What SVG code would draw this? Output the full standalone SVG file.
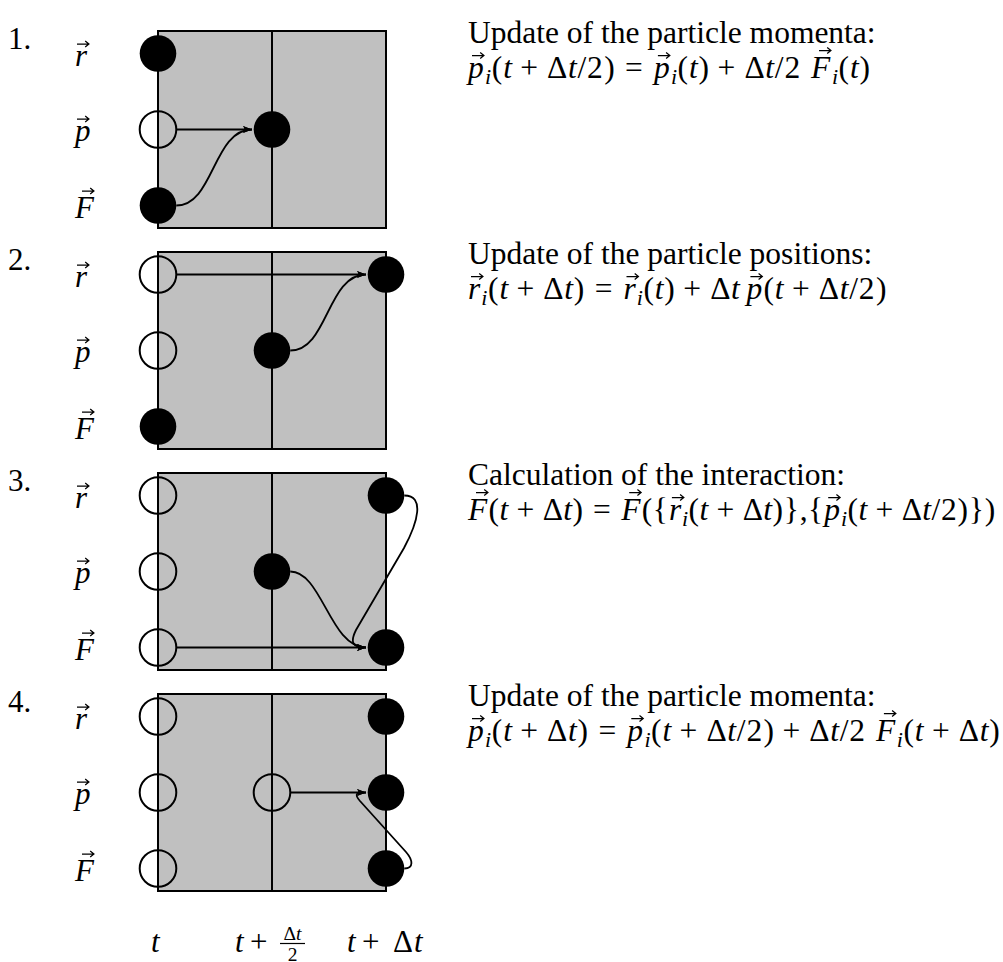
<svg xmlns="http://www.w3.org/2000/svg" xmlns:xlink="http://www.w3.org/1999/xlink" width="1003" height="962" viewBox="0 0 1003 962">
<style>
.box{fill:#c0c0c0;stroke:#000;stroke-width:2}
.div{stroke:#000;stroke-width:2}
.full{fill:#000}
.open{fill:none;stroke:#000;stroke-width:2}
.conn{fill:none;stroke:#000;stroke-width:1.8;marker-end:url(#ah)}
text{font-family:"Liberation Serif","Times New Roman",serif;font-size:31.5px;fill:#000}
.i{font-style:italic}
.s{font-size:22px}
.fr{font-size:19.5px}
.lb{font-size:31px}
</style>
<defs>
<marker id="ah" viewBox="-10 -5 11 10" refX="0" refY="0" markerWidth="11" markerHeight="10" markerUnits="userSpaceOnUse" orient="auto"><path d="M0,0 L-9,-3.6 Q-6,0 -9,3.6 Z" fill="#000"/></marker>
<path id="vec" d="M0,0 H11.5 M8.2,-2.9 L11.9,0 L8.2,2.9" fill="none" stroke="#000" stroke-width="1.25"/>
<g id="lbl">
<text x="75" y="65.5" class="i lb">r</text><use href="#vec" x="77" y="44"/>
<text x="75" y="140.5" class="i lb">p</text><use href="#vec" x="77" y="119"/>
<text x="75" y="217.5" class="i lb">F</text><use href="#vec" x="82" y="191"/>
</g>
</defs>

<!-- boxes -->
<g id="box1"><rect class="box" x="158" y="31" width="228" height="197"/><line class="div" x1="272" y1="31" x2="272" y2="228"/></g>
<g id="box2" transform="translate(0,221)"><rect class="box" x="158" y="31" width="228" height="197"/><line class="div" x1="272" y1="31" x2="272" y2="228"/></g>
<g id="box3" transform="translate(0,442)"><rect class="box" x="158" y="31" width="228" height="197"/><line class="div" x1="272" y1="31" x2="272" y2="228"/></g>
<g id="box4" transform="translate(0,663)"><rect class="box" x="158" y="31" width="228" height="197"/><line class="div" x1="272" y1="31" x2="272" y2="228"/></g>

<!-- connectors -->
<g id="connectors">
<path class="conn" d="M176.3,129.5 H252"/>
<path class="conn" d="M176.3,205.5 C214,205.5 213,129.5 252,129.5"/>
<path class="conn" d="M176.3,274.5 H366"/>
<path class="conn" d="M290.3,350.5 C328,350.5 327,274.5 366,274.5"/>
<path class="conn" d="M176.3,647.5 H366"/>
<path class="conn" d="M290.3,571.5 C322,571.5 330,647.5 366,647.5"/>
<path class="conn" d="M404.3,495.5 C425,495.5 418,522 404,548 L356,630 C350,642 352,647.5 366,647.5"/>
<path class="conn" d="M290.3,792.5 H366"/>
<path class="conn" d="M404.3,868.5 C414,868.5 413,860 406,852 L360,801 C354,794 356,792.5 366,792.5"/>
</g>

<!-- nodes panel 1 -->
<g id="n1-r-t"><circle class="full" cx="158" cy="53.5" r="18.3"/></g>
<g id="n1-p-t"><circle class="open" cx="158" cy="129.5" r="18.3"/></g>
<g id="n1-F-t"><circle class="full" cx="158" cy="205.5" r="18.3"/></g>
<g id="n1-p-half"><circle class="full" cx="272" cy="129.5" r="18.3"/></g>
<!-- nodes panel 2 -->
<g id="n2-r-t"><circle class="open" cx="158" cy="274.5" r="18.3"/></g>
<g id="n2-p-t"><circle class="open" cx="158" cy="350.5" r="18.3"/></g>
<g id="n2-F-t"><circle class="full" cx="158" cy="426.5" r="18.3"/></g>
<g id="n2-p-half"><circle class="full" cx="272" cy="350.5" r="18.3"/></g>
<g id="n2-r-dt"><circle class="full" cx="386" cy="274.5" r="18.3"/></g>
<!-- nodes panel 3 -->
<g id="n3-r-t"><circle class="open" cx="158" cy="495.5" r="18.3"/></g>
<g id="n3-p-t"><circle class="open" cx="158" cy="571.5" r="18.3"/></g>
<g id="n3-F-t"><circle class="open" cx="158" cy="647.5" r="18.3"/></g>
<g id="n3-p-half"><circle class="full" cx="272" cy="571.5" r="18.3"/></g>
<g id="n3-r-dt"><circle class="full" cx="386" cy="495.5" r="18.3"/></g>
<g id="n3-F-dt"><circle class="full" cx="386" cy="647.5" r="18.3"/></g>
<!-- nodes panel 4 -->
<g id="n4-r-t"><circle class="open" cx="158" cy="716.5" r="18.3"/></g>
<g id="n4-p-t"><circle class="open" cx="158" cy="792.5" r="18.3"/></g>
<g id="n4-F-t"><circle class="open" cx="158" cy="868.5" r="18.3"/></g>
<g id="n4-p-half"><circle class="open" cx="272" cy="792.5" r="18.3"/></g>
<g id="n4-r-dt"><circle class="full" cx="386" cy="716.5" r="18.3"/></g>
<g id="n4-p-dt"><circle class="full" cx="386" cy="792.5" r="18.3"/></g>
<g id="n4-F-dt"><circle class="full" cx="386" cy="868.5" r="18.3"/></g>

<!-- panel labels -->
<g id="labels1"><text x="8" y="49" class="lb">1.</text><use href="#lbl"/></g>
<g id="labels2" transform="translate(0,221)"><text x="8" y="49" class="lb">2.</text><use href="#lbl"/></g>
<g id="labels3" transform="translate(0,442)"><text x="8" y="49" class="lb">3.</text><use href="#lbl"/></g>
<g id="labels4" transform="translate(0,663)"><text x="8" y="49" class="lb">4.</text><use href="#lbl"/></g>

<!-- descriptions -->
<g id="desc1">
<text x="468" y="42.5">Update of the particle momenta:</text>
<text y="77.5"><tspan x="468" class="i">p</tspan><tspan x="485.1" y="84" class="s i">i</tspan><tspan x="491.8" y="77.5">(</tspan><tspan x="503.2" class="i">t</tspan><tspan x="520.3">+</tspan><tspan x="547.1">Δ</tspan><tspan x="568.1" class="i">t</tspan><tspan x="577.6">/</tspan><tspan x="587.1">2</tspan><tspan x="604.2">)</tspan><tspan x="625.1">=</tspan><tspan x="653.9" class="i">p</tspan><tspan x="671" y="84" class="s i">i</tspan><tspan x="677.6" y="77.5">(</tspan><tspan x="689" class="i">t</tspan><tspan x="698.5">)</tspan><tspan x="717.5">+</tspan><tspan x="744.4">Δ</tspan><tspan x="765.3" class="i">t</tspan><tspan x="774.8">/</tspan><tspan x="784.4">2</tspan><tspan x="811" class="i">F</tspan><tspan x="831.9" y="84" class="s i">i</tspan><tspan x="838.5" y="77.5">(</tspan><tspan x="849.9" class="i">t</tspan><tspan x="859.4">)</tspan></text>
<use href="#vec" x="472" y="55.5"/><use href="#vec" x="657.9" y="55.5"/><use href="#vec" x="819" y="50.5"/>
</g>
<g id="desc2" transform="translate(0,221)">
<text x="468" y="42.5">Update of the particle positions:</text>
<text y="77.5"><tspan x="468" class="i">r</tspan><tspan x="481.3" y="84" class="s i">i</tspan><tspan x="488" y="77.5">(</tspan><tspan x="499.4" class="i">t</tspan><tspan x="516.5">+</tspan><tspan x="543.3">Δ</tspan><tspan x="564.3" class="i">t</tspan><tspan x="573.8">)</tspan><tspan x="594.7">=</tspan><tspan x="623.5" class="i">r</tspan><tspan x="636.8" y="84" class="s i">i</tspan><tspan x="643.4" y="77.5">(</tspan><tspan x="654.8" class="i">t</tspan><tspan x="664.3">)</tspan><tspan x="683.3">+</tspan><tspan x="710.2">Δ</tspan><tspan x="731.1" class="i">t</tspan><tspan x="746.4" class="i">p</tspan><tspan x="763.5">(</tspan><tspan x="774.8" class="i">t</tspan><tspan x="792">+</tspan><tspan x="818.8">Δ</tspan><tspan x="839.8" class="i">t</tspan><tspan x="849.3">/</tspan><tspan x="858.8">2</tspan><tspan x="875.9">)</tspan></text>
<use href="#vec" x="471" y="55.5"/><use href="#vec" x="626.5" y="55.5"/><use href="#vec" x="750.4" y="55.5"/>
</g>
<g id="desc3" transform="translate(0,442)">
<text x="468" y="42.5">Calculation of the interaction:</text>
<text y="77.5"><tspan x="468" class="i">F</tspan><tspan x="488.5">(</tspan><tspan x="499.6" class="i">t</tspan><tspan x="516.4">+</tspan><tspan x="542.7">Δ</tspan><tspan x="563.2" class="i">t</tspan><tspan x="572.5">)</tspan><tspan x="593">=</tspan><tspan x="621.2" class="i">F</tspan><tspan x="641.7">(</tspan><tspan x="652.8">{</tspan><tspan x="668.9" class="i">r</tspan><tspan x="681.9" y="84" class="s i">i</tspan><tspan x="688.5" y="77.5">(</tspan><tspan x="699.6" class="i">t</tspan><tspan x="716.4">+</tspan><tspan x="742.7">Δ</tspan><tspan x="763.2" class="i">t</tspan><tspan x="772.5">)</tspan><tspan x="783.7">}</tspan><tspan x="799.8">,</tspan><tspan x="808.1">{</tspan><tspan x="824.2" class="i">p</tspan><tspan x="841" y="84" class="s i">i</tspan><tspan x="847.5" y="77.5">(</tspan><tspan x="858.6" class="i">t</tspan><tspan x="875.4">+</tspan><tspan x="901.7">Δ</tspan><tspan x="922.2" class="i">t</tspan><tspan x="931.5">/</tspan><tspan x="940.9">2</tspan><tspan x="957.6">)</tspan><tspan x="968.8">}</tspan><tspan x="984.8">)</tspan></text>
<use href="#vec" x="476" y="50.5"/><use href="#vec" x="629.2" y="50.5"/><use href="#vec" x="671.9" y="55.5"/><use href="#vec" x="828.2" y="55.5"/>
</g>
<g id="desc4" transform="translate(0,663)">
<text x="468" y="42.5">Update of the particle momenta:</text>
<text y="77.5"><tspan x="468" class="i">p</tspan><tspan x="485.1" y="84" class="s i">i</tspan><tspan x="491.8" y="77.5">(</tspan><tspan x="503.2" class="i">t</tspan><tspan x="520.3">+</tspan><tspan x="547.1">Δ</tspan><tspan x="568.1" class="i">t</tspan><tspan x="577.6">)</tspan><tspan x="598.5">=</tspan><tspan x="627.3" class="i">p</tspan><tspan x="644.4" y="84" class="s i">i</tspan><tspan x="651" y="77.5">(</tspan><tspan x="662.4" class="i">t</tspan><tspan x="679.5">+</tspan><tspan x="706.4">Δ</tspan><tspan x="727.3" class="i">t</tspan><tspan x="736.8">/</tspan><tspan x="746.4">2</tspan><tspan x="763.5">)</tspan><tspan x="782.4">+</tspan><tspan x="809.3">Δ</tspan><tspan x="830.2" class="i">t</tspan><tspan x="839.8">/</tspan><tspan x="849.3">2</tspan><tspan x="875.9" class="i">F</tspan><tspan x="896.8" y="84" class="s i">i</tspan><tspan x="903.4" y="77.5">(</tspan><tspan x="914.8" class="i">t</tspan><tspan x="931.9">+</tspan><tspan x="958.8">Δ</tspan><tspan x="979.7" class="i">t</tspan><tspan x="989.2">)</tspan></text>
<use href="#vec" x="472" y="55.5"/><use href="#vec" x="631.3" y="55.5"/><use href="#vec" x="883.9" y="50.5"/>
</g>

<!-- time axis labels -->
<g id="axis">
<text x="151" y="952" class="i lb">t</text>
<text y="952" class="lb"><tspan x="235" class="i">t</tspan><tspan x="250">+</tspan></text>
<text x="292.5" y="939.5" class="fr" text-anchor="middle">Δ<tspan class="i">t</tspan></text>
<line x1="280" y1="943.5" x2="305" y2="943.5" stroke="#000" stroke-width="1.2"/>
<text x="292.5" y="961" class="fr" text-anchor="middle">2</text>
<text y="952" class="lb"><tspan x="347" class="i">t</tspan><tspan x="362">+</tspan><tspan x="393">Δ</tspan><tspan x="414" class="i">t</tspan></text>
</g>
</svg>
